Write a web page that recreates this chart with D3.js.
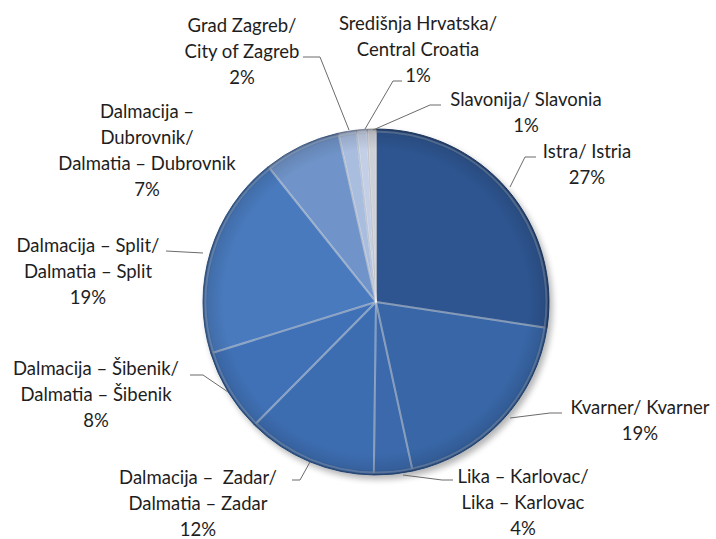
<!DOCTYPE html>
<html>
<head>
<meta charset="utf-8">
<script src="https://cdn.jsdelivr.net/npm/d3@7"></script>
<style>
  body { margin: 0; background: #fff; }
  text { font-family: Lato, "Open Sans", sans-serif; fill: #1e1e1e; white-space: pre; }
</style>
</head>
<body>
<script>
// regions, clockwise from 12 o'clock
var regions = ["Istra", "Kvarner", "Lika", "Zadar", "Sibenik", "Split", "Dubrovnik", "Zagreb", "Sredisnja", "Slavonija"];
var shares = [27.4, 19.2, 3.6, 12.2, 7.8, 19.1, 7.2, 1.7, 1.0, 0.8];
var labels = [
  ["Istra/ Istria", "27%"],
  ["Kvarner/ Kvarner", "19%"],
  ["Lika – Karlovac/", "Lika – Karlovac", "4%"],
  ["Dalmacija –  Zadar/", "Dalmatia – Zadar", "12%"],
  ["Dalmacija – Šibenik/", "Dalmatia – Šibenik", "8%"],
  ["Dalmacija – Split/", "Dalmatia – Split", "19%"],
  ["Dalmacija –", "Dubrovnik/", "Dalmatia – Dubrovnik", "7%"],
  ["Grad Zagreb/", "City of Zagreb", "2%"],
  ["Središnja Hrvatska/", "Central Croatia", "1%"],
  ["Slavonija/ Slavonia", "1%"]
];
var colors = ["#2f5490", "#3866a6", "#3a69ab", "#3c6db1", "#3f71b6", "#4a7abd", "#7094c9", "#a9bddf", "#c3cfe6", "#cfd1d8"];

var width = 716, height = 539,
    cx = 376, cy = 302, radius = 173;

var svg = d3.select("body").append("svg")
    .attr("width", width)
    .attr("height", height);

var defs = svg.append("defs");
var shadow = defs.append("filter").attr("id", "shadow")
    .attr("x", "-20%").attr("y", "-20%").attr("width", "140%").attr("height", "140%");
shadow.append("feGaussianBlur").attr("in", "SourceAlpha").attr("stdDeviation", 3);
shadow.append("feOffset").attr("dx", 3).attr("dy", 4).attr("result", "b");
shadow.append("feComponentTransfer").append("feFuncA").attr("type", "linear").attr("slope", 0.3);
var m = shadow.append("feMerge");
m.append("feMergeNode");
m.append("feMergeNode").attr("in", "SourceGraphic");

// rim shading, in the group's own coordinates
var rim = defs.append("radialGradient").attr("id", "rim")
    .attr("gradientUnits", "userSpaceOnUse")
    .attr("cx", 0).attr("cy", 0).attr("r", radius);
rim.append("stop").attr("offset", "0.88").attr("stop-color", "#000").attr("stop-opacity", 0);
rim.append("stop").attr("offset", "0.97").attr("stop-color", "#000").attr("stop-opacity", 0.1);
rim.append("stop").attr("offset", "1").attr("stop-color", "#000").attr("stop-opacity", 0.28);

var pie = d3.pie().sort(null).value(function(d) { return d; });
var arcs = pie(shares);
var arc = d3.arc().innerRadius(0).outerRadius(radius);
var inner = d3.arc().innerRadius(0).outerRadius(radius - 2.5);

var g = svg.append("g").attr("transform", "translate(" + cx + "," + cy + ")");
var pieG = g.append("g").attr("filter", "url(#shadow)");

pieG.selectAll("path.slice")
    .data(arcs)
    .enter().append("path")
    .attr("class", "slice")
    .attr("d", arc)
    .attr("fill", function(d, i) { return colors[i]; })
    .attr("stroke", function(d, i) { return d3.color(colors[i]).darker(0.9); })
    .attr("stroke-width", 1);

// bevel highlight
g.selectAll("path.hl")
    .data(arcs)
    .enter().append("path")
    .attr("d", inner)
    .attr("fill", "none")
    .attr("stroke", "#fff")
    .attr("stroke-opacity", 0.25)
    .attr("stroke-width", 2);

g.append("circle").attr("r", radius).attr("fill", "url(#rim)");

// label positions (line centres) and leader lines
var labelPos = [
  [587, 152], [640, 408], [523, 477], [198, 478], [96, 369],
  [88, 246], [147, 112], [242, 26], [418, 24], [526, 100]
];
var leaders = [
  [[536, 157], [525, 157], [510, 187]],
  [[562, 413], [550, 413], [510, 418]],
  [[453, 480], [442, 480], [403, 475]],
  [[292, 480], [300, 480], [310, 462]],
  [[190, 375], [203, 375], [228, 392]],
  [[166, 251], [203, 253]],
  null,
  [[303, 57], [320, 57], [349, 130]],
  [[402, 81], [393, 81], [365, 129]],
  [[441, 105], [430, 105], [373, 130]]
];
var lineH = 26;

var lab = svg.append("g").selectAll("g")
    .data(labels)
    .enter().append("g");

lab.append("text")
    .attr("text-anchor", "middle")
    .attr("font-size", 18.5)
    .selectAll("tspan")
    .data(function(d, i) { return d.map(function(t, k) { return { t: t, x: labelPos[i][0], y: labelPos[i][1] + k * lineH }; }); })
    .enter().append("tspan")
    .attr("x", function(d) { return d.x; })
    .attr("y", function(d) { return d.y; })
    .attr("dy", "0.35em")
    .text(function(d) { return d.t; });

svg.append("g").selectAll("path")
    .data(leaders.filter(function(d) { return d; }))
    .enter().append("path")
    .attr("d", d3.line())
    .attr("fill", "none")
    .attr("stroke", "#6b6b6b")
    .attr("stroke-width", 1);
</script>
</body>
</html>
